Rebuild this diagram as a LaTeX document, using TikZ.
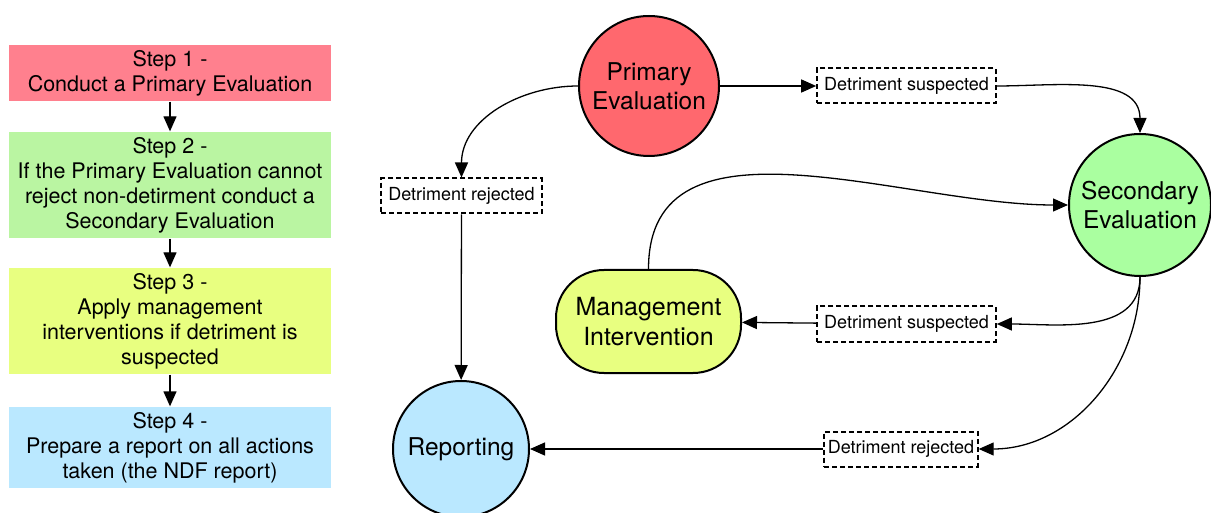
\documentclass[tikz,border=0pt]{standalone}
\usepackage{fontspec}
\setmainfont{TeX Gyre Heros}
\usetikzlibrary{arrows.meta}
\newcommand{\steplabel}[2]{Step #1 - \\ #2}
\definecolor{primaryred}{RGB}{255,104,110}
\definecolor{steppink}{RGB}{255,128,142}
\definecolor{stepgreen}{RGB}{186,245,162}
\definecolor{secondgreen}{RGB}{170,255,160}
\definecolor{manageyellow}{RGB}{232,255,128}
\definecolor{reportblue}{RGB}{186,232,255}

\begin{document}
\begin{tikzpicture}[x = 1pt, y = -1pt, line width = 1.3pt,
	stepbox/.style = {rectangle, minimum width = 322pt, inner sep = 0pt, align = center, font = \fontsize{21.5}{25}\selectfont},
	stage/.style = {circle, draw = black, line width = 2pt, inner sep = 0pt, align = center, font = \fontsize{24.5}{29}\selectfont},
	outcome/.style = {rectangle, draw = black, dash pattern = on 5pt off 3pt, line width = 2pt, fill = white, inner xsep = 7pt, minimum height = 35pt, font = \fontsize{18}{20}\selectfont},
	flow/.style = {-{Triangle[length = 15pt, width = 13pt]}}]
	\useasboundingbox (0, 0) rectangle (1211, 513);

	% the four steps
	\node (s1) at (170, 73) [stepbox, fill = steppink, minimum height = 56pt] {\steplabel{1}{Conduct a Primary Evaluation}};
	\node (s2) at (170, 185) [stepbox, fill = stepgreen, minimum height = 106pt] {\steplabel{2}{If the Primary Evaluation cannot \\ reject non-detirment conduct a \\ Secondary Evaluation}};
	\node (s3) at (170, 321) [stepbox, fill = manageyellow, minimum height = 106pt] {\steplabel{3}{Apply management \\ interventions if detriment is \\ suspected}};
	\node (s4) at (170, 447.5) [stepbox, fill = reportblue, minimum height = 81pt] {\steplabel{4}{Prepare a report on all actions \\ taken (the NDF report)}};

	% the evaluation graph
	\node (primary) at (649, 86) [stage, fill = primaryred, minimum size = 140pt] {Primary \\ Evaluation};
	\node (secondary) at (1140, 205) [stage, fill = secondgreen, minimum size = 142pt] {Secondary \\ Evaluation};
	\node (manage) at (648.5, 321.5) [rectangle, rounded corners = 48pt, draw = black, line width = 2pt, fill = manageyellow, minimum width = 185pt, minimum height = 103pt, align = center, font = \fontsize{25}{30}\selectfont] {Management \\ Intervention};
	\node (reporting) at (461, 449) [stage, fill = reportblue, minimum size = 136pt] {Reporting};

	\node (suspA) at (906.5, 86) [outcome] {Detriment suspected};
	\node (rejA) at (461.5, 196) [outcome] {Detriment rejected};
	\node (suspB) at (906.5, 324) [outcome] {Detriment suspected};
	\node (rejB) at (901, 449) [outcome, inner xsep = 3.5pt] {Detriment rejected};

	\foreach \from/\to in {s1/s2, s2/s3, s3/s4, primary/suspA, rejA/reporting, suspB/manage, rejB/reporting}
		\draw [flow] (\from) -- (\to);

	\foreach \from/\leave/\enter/\to in {suspA.east/0/90/secondary.north, primary.west/180/90/rejA.north, manage.north/90/180/secondary.west, secondary.south/270/0/suspB.east, secondary.south/270/0/rejB.east}
		\draw [flow] (\from) to [out = \leave, in = \enter] (\to);
\end{tikzpicture}
\end{document}
